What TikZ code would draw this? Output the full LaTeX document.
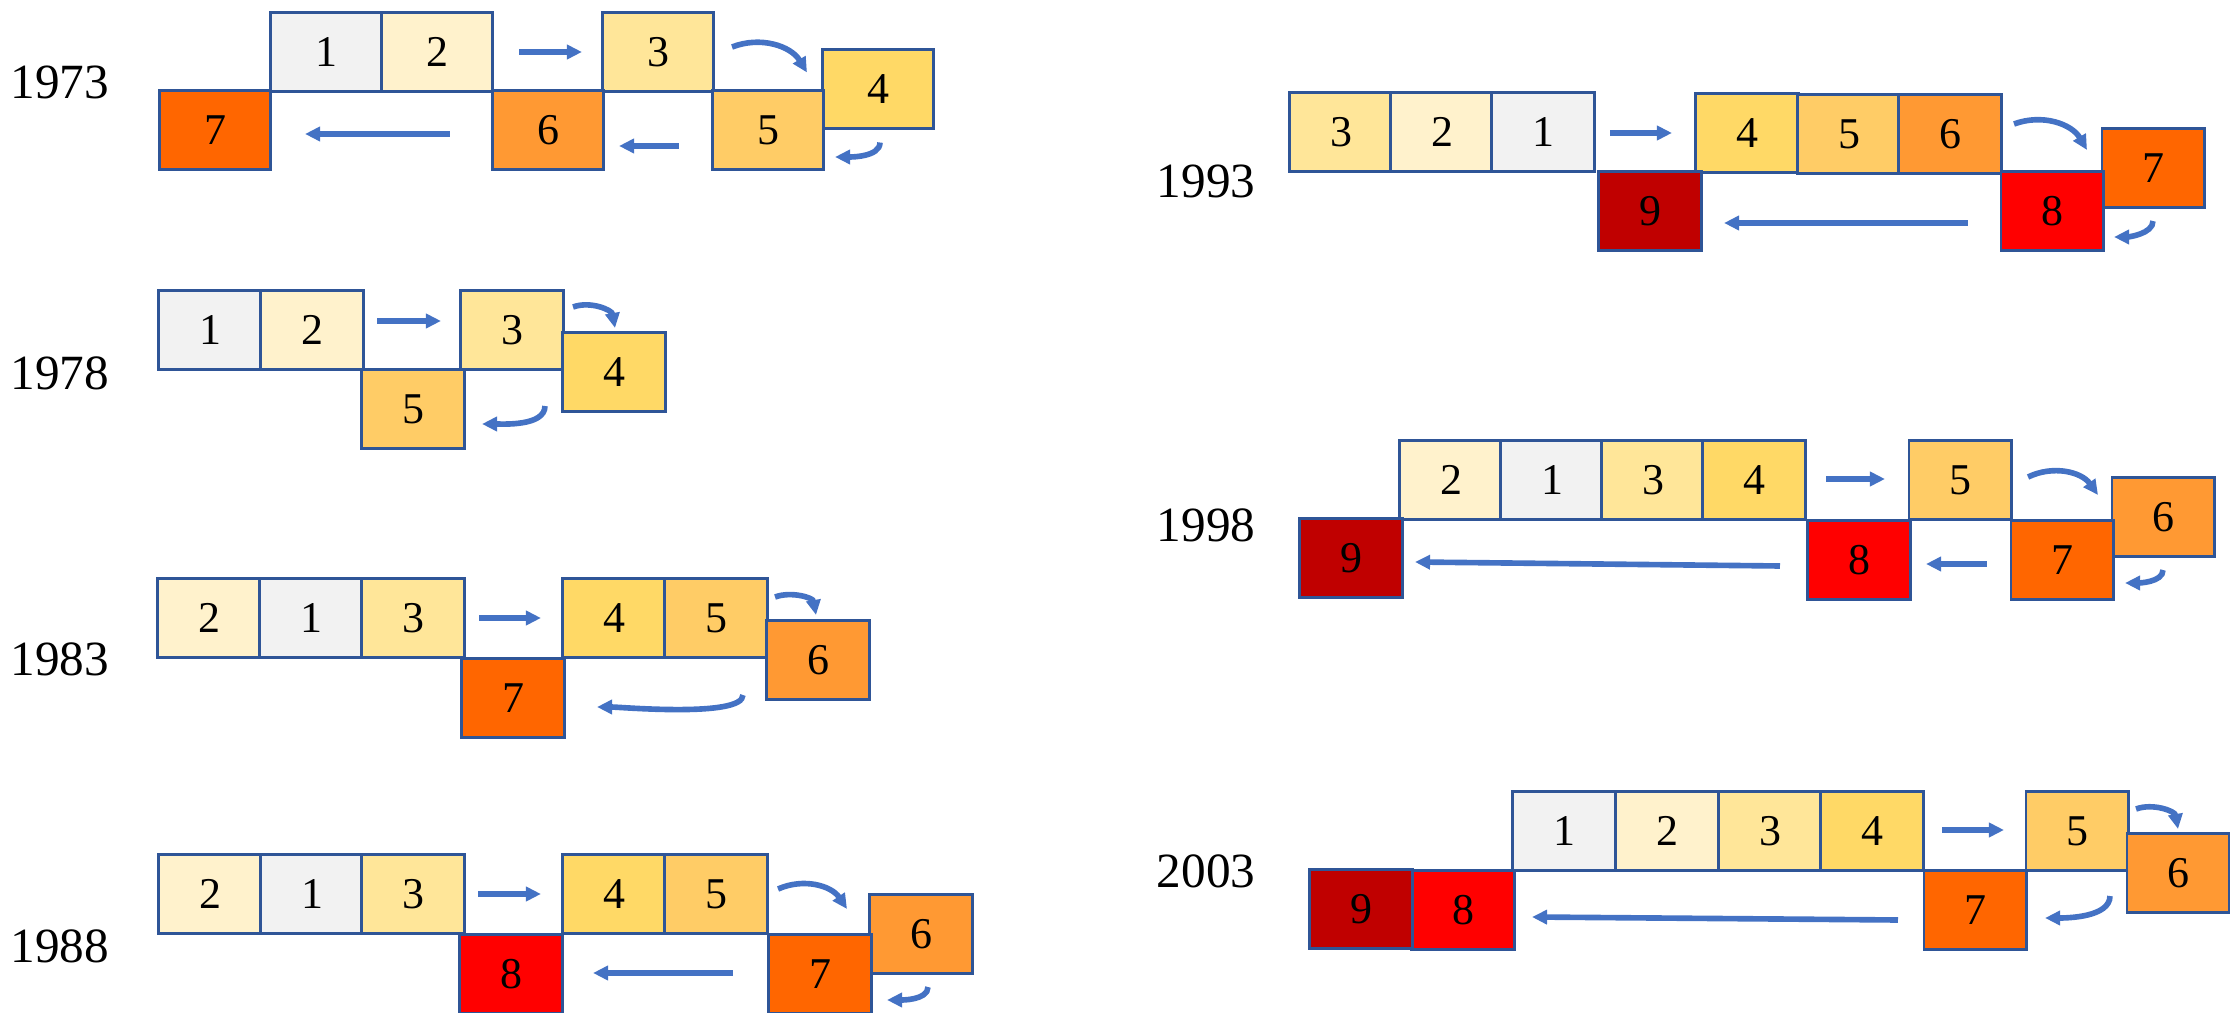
\documentclass[tikz,border=0pt]{standalone}
\usepackage{fontspec}
\setmainfont{Liberation Serif}
\usetikzlibrary{arrows.meta}
\usetikzlibrary{calc}
\definecolor{rank1}{HTML}{F2F2F2}
\definecolor{rank2}{HTML}{FFF2CC}
\definecolor{rank3}{HTML}{FFE699}
\definecolor{rank4}{HTML}{FFD966}
\definecolor{rank5}{HTML}{FFCC66}
\definecolor{rank6}{HTML}{FF9933}
\definecolor{rank7}{HTML}{FF6600}
\definecolor{rank8}{HTML}{FF0000}
\definecolor{rank9}{HTML}{C00000}
\definecolor{boxline}{HTML}{2F5597}
\definecolor{arrowblue}{HTML}{4472C4}
\tikzset{
	>={Triangle[length=1.5mm,width=1.4mm]},
	cell/.style={draw=boxline, line width=0.85pt, minimum width=1.02cm, minimum height=0.78cm, inner sep=0pt, outer sep=0pt, font=\fontsize{12.5}{14}\selectfont},
	widecell/.style={cell, minimum width=1.10cm, minimum height=0.79cm},
	year/.style={font=\fontsize{14}{16}\selectfont},
	flow/.style={->, draw=arrowblue, line width=1.6pt},
	wrapdown/.style={flow, bend left=40},
	dropdown/.style={flow, out=20, in=100},
	wrapback/.style={flow, out=-90, in=0, looseness=0.8}
}

\begin{document}
\begin{tikzpicture}[x=0.01cm,y=0.01cm]
			\useasboundingbox (0,0) rectangle (2230,-1013);
			% 1973
			\node[year] (lab73) at (60,-82) {1973};
			\node[widecell, fill=rank1] (p73n1) at (326,-52) {1};
			\node[widecell, fill=rank2] (p73n2) at (437,-52) {2};
			\node[widecell, fill=rank3] (p73n3) at (658,-52) {3};
			\node[widecell, fill=rank4] (p73n4) at (878,-89) {4};
			\node[widecell, fill=rank5] (p73n5) at (768,-130) {5};
			\node[widecell, fill=rank6] (p73n6) at (548,-130) {6};
			\node[widecell, fill=rank7] (p73n7) at (215,-130) {7};
			\draw[flow] ($(p73n2.east)+(27,0)$) -- ($(p73n3.west)+(-21,0)$);
			\draw[wrapdown] ($(p73n3.east)+(19,5)$) to ($(p73n4.north west)+(-16,-23)$);
			\draw[wrapback] ($(p73n4.south)+(2,-14)$) to ($(p73n5.east)+(12,-27)$);
			\draw[flow] ($(p73n5.west)+(-34,-16)$) -- ($(p73n6.east)+(16,-16)$);
			\draw[flow] ($(p73n6.west)+(-43,-4)$) -- ($(p73n7.east)+(35,-4)$);
			% 1978
			\node[year] (lab78) at (60,-373) {1978};
			\node[cell, fill=rank1] (p78n1) at (210,-330) {1};
			\node[cell, fill=rank2] (p78n2) at (312,-330) {2};
			\node[cell, fill=rank3] (p78n3) at (512,-330) {3};
			\node[cell, fill=rank4] (p78n4) at (614,-372) {4};
			\node[cell, fill=rank5] (p78n5) at (413,-409) {5};
			\draw[flow] ($(p78n2.east)+(14,9)$) -- ($(p78n3.west)+(-20,9)$);
			\draw[dropdown] ($(p78n3.east)+(10,23)$) to ($(p78n4.north)+(1,5)$);
			\draw[wrapback] ($(p78n4.south west)+(-18,5)$) to ($(p78n5.east)+(18,-15)$);
			% 1983
			\node[year] (lab83) at (60,-659) {1983};
			\node[cell, fill=rank2] (p83n2) at (209,-618) {2};
			\node[cell, fill=rank1] (p83n1) at (311,-618) {1};
			\node[cell, fill=rank3] (p83n3) at (413,-618) {3};
			\node[cell, fill=rank4] (p83n4) at (614,-618) {4};
			\node[cell, fill=rank5] (p83n5) at (716,-618) {5};
			\node[cell, fill=rank6] (p83n6) at (818,-660) {6};
			\node[cell, fill=rank7] (p83n7) at (513,-698) {7};
			\draw[flow] ($(p83n3.east)+(15,0)$) -- ($(p83n4.west)+(-22,0)$);
			\draw[dropdown] ($(p83n5.east)+(8,21)$) to ($(p83n6.north)+(-2,6)$);
			\draw[wrapback, looseness=0.4] ($(p83n6.south west)+(-24,4)$) to ($(p83n7.east)+(33,-9)$);
			% 1988
			\node[year] (lab88) at (60,-946) {1988};
			\node[cell, fill=rank2] (p88n2) at (210,-894) {2};
			\node[cell, fill=rank1] (p88n1) at (312,-894) {1};
			\node[cell, fill=rank3] (p88n3) at (413,-894) {3};
			\node[cell, fill=rank4] (p88n4) at (614,-894) {4};
			\node[cell, fill=rank5] (p88n5) at (716,-894) {5};
			\node[cell, fill=rank6] (p88n6) at (921,-934) {6};
			\node[cell, fill=rank7] (p88n7) at (820,-974) {7};
			\node[cell, fill=rank8] (p88n8) at (511,-974) {8};
			\draw[flow] ($(p88n3.east)+(14,0)$) -- ($(p88n4.west)+(-22,0)$);
			\draw[wrapdown] ($(p88n5.east)+(11,5)$) to ($(p88n6.north west)+(-23,-14)$);
			\draw[wrapback] ($(p88n6.south)+(7,-14)$) to ($(p88n7.east)+(16,-26)$);
			\draw[flow] ($(p88n7.west)+(-36,1)$) -- ($(p88n8.east)+(31,1)$);
			% 1993
			\node[year] (lab93) at (1206,-181) {1993};
			\node[cell, fill=rank3] (p93n3) at (1341,-132) {3};
			\node[cell, fill=rank2] (p93n2) at (1442,-132) {2};
			\node[cell, fill=rank1] (p93n1) at (1543,-132) {1};
			\node[cell, fill=rank4] (p93n4) at (1747,-133) {4};
			\node[cell, fill=rank5] (p93n5) at (1849,-134) {5};
			\node[cell, fill=rank6] (p93n6) at (1950,-134) {6};
			\node[cell, fill=rank7] (p93n7) at (2153,-168) {7};
			\node[cell, fill=rank8] (p93n8) at (2052,-211) {8};
			\node[cell, fill=rank9] (p93n9) at (1650,-211) {9};
			\draw[flow] ($(p93n1.east)+(16,-1)$) -- ($(p93n4.west)+(-24,0)$);
			\draw[wrapdown] ($(p93n6.east)+(13,10)$) to ($(p93n7.north west)+(-15,-21)$);
			\draw[wrapback] ($(p93n7.south)+(0,-14)$) to ($(p93n8.east)+(11,-26)$);
			\draw[flow] ($(p93n8.west)+(-33,-12)$) -- ($(p93n9.east)+(23,-12)$);
			% 1998
			\node[year] (lab98) at (1206,-525) {1998};
			\node[cell, fill=rank2] (p98n2) at (1451,-480) {2};
			\node[cell, fill=rank1] (p98n1) at (1552,-480) {1};
			\node[cell, fill=rank3] (p98n3) at (1653,-480) {3};
			\node[cell, fill=rank4] (p98n4) at (1754,-480) {4};
			\node[cell, fill=rank5] (p98n5) at (1960,-480) {5};
			\node[cell, fill=rank6] (p98n6) at (2163,-517) {6};
			\node[cell, fill=rank7] (p98n7) at (2062,-560) {7};
			\node[cell, fill=rank8] (p98n8) at (1859,-560) {8};
			\node[cell, fill=rank9] (p98n9) at (1351,-558) {9};
			\draw[flow] ($(p98n4.east)+(21,1)$) -- ($(p98n5.west)+(-24,1)$);
			\draw[wrapdown] ($(p98n5.east)+(17,3)$) to ($(p98n6.north west)+(-14,-17)$);
			\draw[wrapback] ($(p98n6.south)+(0,-14)$) to ($(p98n7.east)+(12,-23)$);
			\draw[flow] ($(p98n7.west)+(-24,-4)$) -- ($(p98n8.east)+(16,-4)$);
			\draw[flow] ($(p98n8.west)+(-28,-6)$) -- ($(p98n9.east)+(13,-4)$);
			% 2003
			\node[year] (lab03) at (1206,-871) {2003};
			\node[cell, fill=rank1] (p03n1) at (1564,-831) {1};
			\node[cell, fill=rank2] (p03n2) at (1667,-831) {2};
			\node[cell, fill=rank3] (p03n3) at (1770,-831) {3};
			\node[cell, fill=rank4] (p03n4) at (1872,-831) {4};
			\node[cell, fill=rank5] (p03n5) at (2077,-831) {5};
			\node[cell, fill=rank6] (p03n6) at (2178,-873) {6};
			\node[cell, fill=rank7] (p03n7) at (1975,-910) {7};
			\node[cell, fill=rank8] (p03n8) at (1463,-910) {8};
			\node[cell, fill=rank9] (p03n9) at (1361,-909) {9};
			\draw[flow] ($(p03n4.east)+(19,1)$) -- ($(p03n5.west)+(-22,1)$);
			\draw[dropdown] ($(p03n5.east)+(8,22)$) to ($(p03n6.north)+(0,5)$);
			\draw[wrapback] ($(p03n6.south west)+(-17,16)$) to ($(p03n7.east)+(19,-8)$);
			\draw[flow] ($(p03n7.west)+(-26,-10)$) -- ($(p03n8.east)+(18,-7)$);
		\end{tikzpicture}
\end{document}
